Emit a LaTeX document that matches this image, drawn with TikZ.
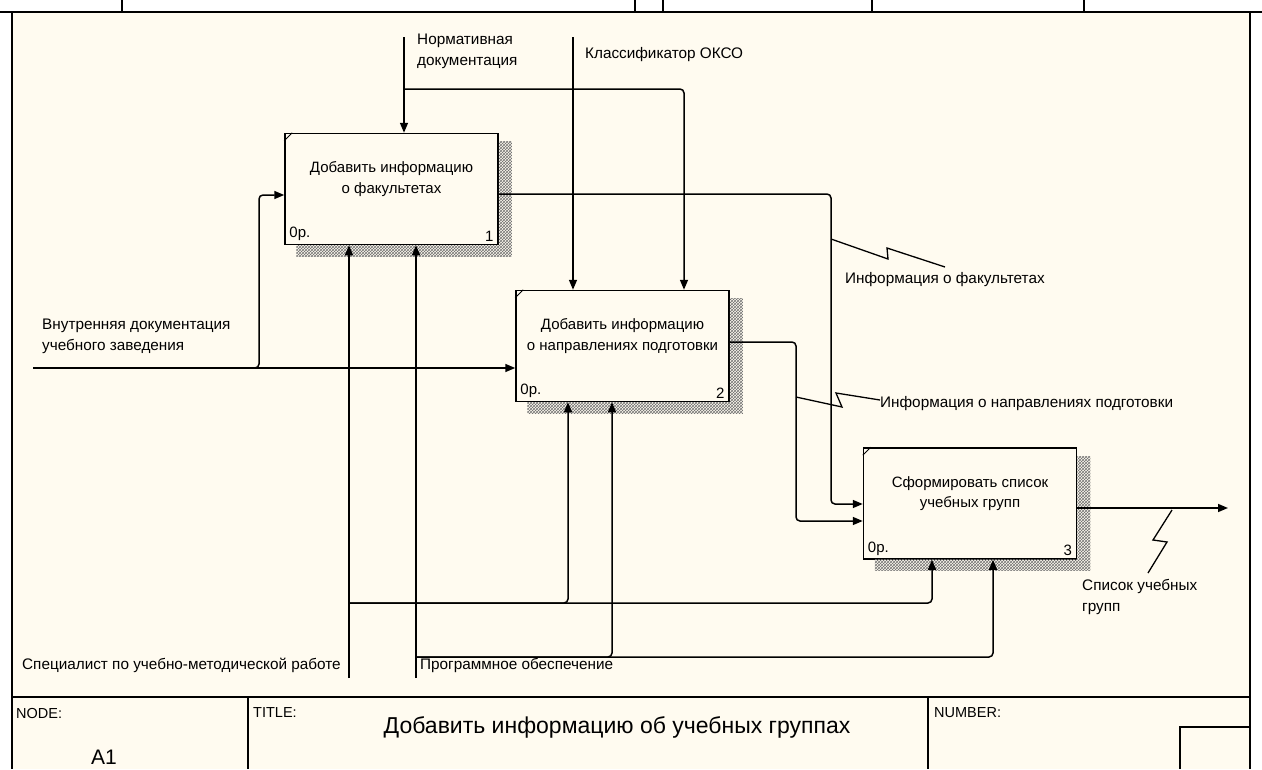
\documentclass[tikz,border=0pt]{standalone}
\usepackage{fontspec}
\setmainfont{Liberation Sans}
\usetikzlibrary{arrows.meta,patterns,positioning}
\definecolor{paper}{RGB}{255,251,240}
\tikzset{
  func/.style = {draw, line width=1.5pt, fill=paper, minimum width=213pt, minimum height=111pt, inner sep=0pt},
  ftext/.style = {font=\fontsize{15}{20.5}\selectfont, align=center, inner sep=0pt},
  arr/.style = {line width=1.5pt, rounded corners=4pt, -{Triangle[length=10pt,width=8pt]}},
  squig/.style = {line width=1.3pt},
  lbl/.style = {font=\fontsize{15.3}{21}\selectfont, align=left, inner sep=0pt, anchor=west},
  tb/.style = {font=\fontsize{14.5}{16}\selectfont, inner sep=0pt, anchor=west},
  frame/.style = {line width=1.8pt}
}

\begin{document}
\begin{tikzpicture}[x=1pt, y=-1pt]
  \useasboundingbox (0,0) rectangle (1262,769);
  \fill[white] (0,0) rectangle (1262,769);
  \fill[paper] (12,12) rectangle (1250,769);
  % header (cut off)
  \draw[frame] (0,12) -- (1262,12);
  \foreach \x in {122,635,663,872,1084}
    \draw[line width=1.2pt] (\x,0) -- (\x,12);
  \draw[frame] (12,12) -- (12,769);
  \draw[frame] (1250,12) -- (1250,769);

  % functions
  \node[func] (b1) at (391.5,189) {};
  \node[func] (b2) at (622.5,346) {};
  \node[func] (b3) at (970,503.5) {};
  \foreach \b/\n in {b1/1,b2/2,b3/3}{
    \fill[pattern=crosshatch, pattern color=black!55]
      ([shift={(0,9)}]\b.north east) rectangle ([shift={(13,11)}]\b.south east);
    \fill[pattern=crosshatch, pattern color=black!55]
      ([shift={(12,0)}]\b.south west) rectangle ([shift={(0,11)}]\b.south east);
    \draw[line width=0.9pt] ([shift={(0,8)}]\b.north west) -- ([shift={(8,0)}]\b.north west);
    \node[ftext, anchor=south west] (\b-c) at ([shift={(5,-4)}]\b.south west) {0р.};
    \node[ftext, anchor=south east] (\b-n) at ([shift={(-5,-4)}]\b.south east) {\n};
  }
  \node[ftext] (t1) at ([yshift=10pt]b1.center) {Добавить информацию\\о факультетах};
  \node[ftext] (t2) at ([yshift=10pt]b2.center) {Добавить информацию\\о направлениях подготовки};
  \node[ftext] (t3) at ([yshift=10pt]b3.center) {Сформировать список\\учебных групп};

  % labels
  \node[lbl] (norm) at (417,51) {Нормативная\\документация};
  \node[lbl] (klass) at (585,55) {Классификатор ОКСО};
  \node[lbl] (vnutr) at (42,336) {Внутренняя документация\\учебного заведения};
  \node[lbl] (spec) at (22,665) {Специалист по учебно-методической работе};
  \node[lbl] (prog) at (420,665) {Программное обеспечение};
  \node[lbl] (infFac) at (845,280) {Информация о факультетах};
  \node[lbl] (infNapr) at (880,404) {Информация о направлениях подготовки};
  \node[lbl] (spisok) at (1082,597) {Список учебных\\групп};

  % free ends and junctions
  \coordinate (normIn) at (404,37);
  \coordinate (klassIn) at (573,37);
  \coordinate (vnIn) at (33,368);
  \coordinate (specIn) at (349,678);
  \coordinate (progIn) at (416,678);
  \coordinate (outEnd) at (1228,508);
  \coordinate (jn) at (404,89);
  \coordinate (jv) at (240,368);
  \coordinate (js) at (349,603);
  \coordinate (jp) at (416,657);

  % controls
  \draw[arr] (normIn) -- (normIn |- b1.north);
  \draw[arr] (jn) -| (b2.north -| 684,0);
  \draw[arr] (klassIn) -- (klassIn |- b2.north);
  % inputs
  \draw[arr] (vnIn) -- (vnIn -| b2.west);
  \draw[arr] (jv) -| (259,195) -- (b1.west |- 0,195);
  % outputs
  \draw[arr] (b1.east |- 0,194) -| (831,504) -- (b3.west |- 0,504);
  \draw[arr] (b2.east |- 0,342) -| (796,521) -- (b3.west |- 0,521);
  \draw[arr] (b3.east |- 0,508) -- (outEnd);
  % mechanisms
  \draw[arr] (specIn) -- (specIn |- b1.south);
  \draw[arr] (js) -| (b3.south -| 932,0);
  \draw[arr] (js) -| (b2.south -| 568,0);
  \draw[arr] (progIn) -- (progIn |- b1.south);
  \draw[arr] (jp) -| (b3.south -| 993,0);
  \draw[arr] (jp) -| (b2.south -| 612,0);

  % squiggles
  \draw[squig] (831,239) -- (888,259) -- (887,248) -- (945,267);
  \draw[squig] (796,397) -- (842,407) -- (836,393) -- (880,400);
  \draw[squig] (1172,510) -- (1153,540) -- (1167,542) -- (1148,573);

  % title block
  \draw[frame] (12,697) -- (1250,697);
  \draw[frame] (248,697) -- (248,769);
  \draw[frame] (928,697) -- (928,769);
  \draw[line width=1.4pt] (1250,727) -| (1180,769);
  \node[tb] (nodeL) at (16,713) {NODE:};
  \node[tb] (titleL) at (253,713) {TITLE:};
  \node[tb] (numL) at (934,713) {NUMBER:};
  \node[font=\fontsize{21}{24}\selectfont, inner sep=0pt] (nodeA) at (104,757) {A1};
  \node[font=\fontsize{23}{26}\selectfont, inner sep=0pt] (title) at (617,727) {Добавить информацию об учебных группах};
\end{tikzpicture}
\end{document}
